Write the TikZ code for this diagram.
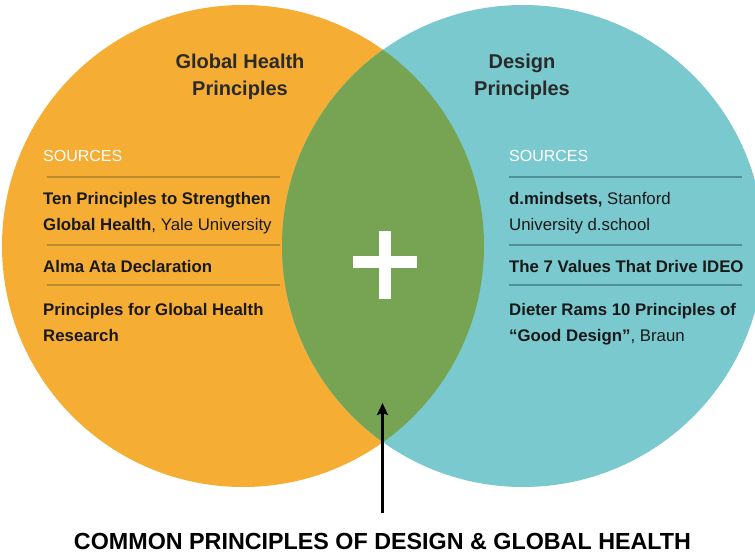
\documentclass[tikz,border=0pt]{standalone}
\usepackage{fontspec}
\setmainfont{Liberation Sans}
\usetikzlibrary{positioning,arrows.meta}
\definecolor{healthorange}{HTML}{F6AD33}
\definecolor{designteal}{HTML}{7AC9CF}
\definecolor{commongreen}{HTML}{77A453}
\definecolor{titleink}{HTML}{2A2A2A}
\definecolor{orangerule}{HTML}{B98A2E}
\definecolor{tealrule}{HTML}{4F8F95}
\tikzset{
  circletitle/.style={font=\fontsize{20}{27}\selectfont\bfseries, text=titleink, align=center, anchor=north, inner sep=0pt},
  sourcehead/.style={font=\fontsize{16}{19}\selectfont, text=white, anchor=base west, inner sep=0pt},
  sourceentry/.style={font=\fontsize{16.8}{26}\selectfont, text=black!90, align=left, anchor=north west, inner sep=0pt},
  sourcerule/.style={line width=1.3pt},
  pointer/.style={-{Stealth[length=12pt,width=11pt,inset=2pt]}, line width=3pt},
}
\begin{document}
\begin{tikzpicture}[x=1pt,y=-1pt]
  \useasboundingbox (0,0) rectangle (755,556);

  % the two circles and their overlap
  \fill[healthorange] (243,246) circle[radius=241pt];
  \fill[designteal] (523,246) circle[radius=241pt];
  \begin{scope}
    \clip (243,246) circle[radius=241pt];
    \fill[commongreen] (523,246) circle[radius=241pt];
  \end{scope}

  % plus sign
  \fill[white] (353,256) rectangle (417,268);
  \fill[white] (379,231) rectangle (391,299);

  % titles
  \node[circletitle] (healthtitle) at (240,53.5) {Global Health\\Principles};
  \node[circletitle] (designtitle) at (522,53.5) {Design\\Principles};

  % left list
  \node[sourcehead] (healthsrc) at (43,162) {SOURCES};
  \draw[sourcerule, orangerule] (47,177) -- (280,177);
  \node[sourceentry] (yale) at (43,192) {\textbf{Ten Principles to Strengthen}\\\textbf{Global Health}, Yale University};
  \draw[sourcerule, orangerule] (47,245) -- (280,245);
  \node[sourceentry] (alma) at (43,260) {\textbf{Alma Ata Declaration}};
  \draw[sourcerule, orangerule] (47,285) -- (280,285);
  \node[sourceentry] (research) at (43,303) {\textbf{Principles for Global Health}\\\textbf{Research}};

  % right list
  \node[sourcehead] (designsrc) at (509,162) {SOURCES};
  \draw[sourcerule, tealrule] (509,177) -- (742,177);
  \node[sourceentry] (dschool) at (509,192) {\textbf{d.mindsets,} Stanford\\University d.school};
  \draw[sourcerule, tealrule] (509,245) -- (742,245);
  \node[sourceentry] (ideo) at (509,260) {\textbf{The 7 Values That Drive IDEO}};
  \draw[sourcerule, tealrule] (509,285) -- (742,285);
  \node[sourceentry] (braun) at (509,303) {\textbf{Dieter Rams 10 Principles of}\\\textbf{``Good Design''}, Braun};

  % common label -> overlap
  \node[font=\fontsize{23.3}{27}\selectfont\bfseries, anchor=base, inner sep=0pt] (common) at (382.5,549) {COMMON PRINCIPLES OF DESIGN \& GLOBAL HEALTH};
  \coordinate (lens) at (382.5,403);
  \draw[pointer] ([yshift=20pt]common.north) -- (lens);
\end{tikzpicture}
\end{document}
